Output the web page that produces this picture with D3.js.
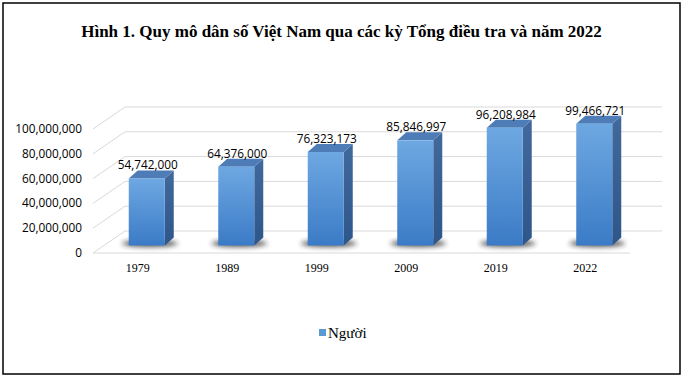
<!DOCTYPE html>
<html>
<head>
<meta charset="utf-8">
<script src="https://cdn.jsdelivr.net/npm/d3@7"></script>
<style>
  body { margin: 0; background: #fff; }
  svg { display: block; }
</style>
</head>
<body>
<div id="chart"></div>
<script>
// Chart data
const years = ['1979', '1989', '1999', '2009', '2019', '2022'];
const population = [54742000, 64376000, 76323173, 85846997, 96208984, 99466721];
const tickValues = [0, 20000000, 40000000, 60000000, 80000000, 100000000];
const seriesName = 'Người';
const title = 'Hình 1. Quy mô dân số Việt Nam qua các kỳ Tổng điều tra và năm 2022';

const width = 683;
const height = 379;

// 3D plot geometry
const floorLeft = 93, floorRight = 630;
const depthX = 32, depthY = -22;       // wall depth offset
const barDX = 9, barDY = -8;           // bar depth offset
const barWidth = 36;

const svg = d3.select('#chart')
  .append('svg')
  .attr('width', width)
  .attr('height', height);

const defs = svg.append('defs');

const frontGrad = defs.append('linearGradient')
  .attr('id', 'frontGrad')
  .attr('x1', 0).attr('y1', 0).attr('x2', 0).attr('y2', 1);
frontGrad.append('stop').attr('offset', '0%').attr('stop-color', '#6ea8e2');
frontGrad.append('stop').attr('offset', '100%').attr('stop-color', '#3b7bc6');

const sideGrad = defs.append('linearGradient')
  .attr('id', 'sideGrad')
  .attr('x1', 0).attr('y1', 0).attr('x2', 0).attr('y2', 1);
sideGrad.append('stop').attr('offset', '0%').attr('stop-color', '#42699c');
sideGrad.append('stop').attr('offset', '100%').attr('stop-color', '#2d568a');

defs.append('filter')
  .attr('id', 'blur')
  .attr('x', '-50%').attr('y', '-200%')
  .attr('width', '200%').attr('height', '500%')
  .append('feGaussianBlur')
  .attr('stdDeviation', 2.5);

// Outer border
svg.append('rect')
  .attr('x', 3).attr('y', 3)
  .attr('width', 677).attr('height', 371)
  .attr('fill', '#fff')
  .attr('stroke', '#000')
  .attr('stroke-width', 1.5);

// Title
svg.append('text')
  .attr('x', 341.5)
  .attr('y', 37)
  .attr('text-anchor', 'middle')
  .attr('font-family', '"Liberation Serif", "Times New Roman", serif')
  .attr('font-weight', 'bold')
  .attr('font-size', '17px')
  .attr('fill', '#000')
  .text(title);

// Scales
const x = d3.scaleBand()
  .domain(years)
  .range([floorLeft, floorRight])
  .padding(0);

// value axis on the front plane
const yFront = d3.scaleLinear()
  .domain([0, 100000000])
  .range([253, 129]);

// value scale at bar depth
const yBar = d3.scaleLinear()
  .domain([0, 100000000])
  .range([245.5, 123]);

const fmt = d3.format(',');

// Gridlines: back wall and left side wall
const grid = svg.append('g');
grid.selectAll('line.back')
  .data(tickValues)
  .join('line')
  .attr('class', 'back')
  .attr('x1', floorLeft + depthX)
  .attr('x2', floorRight + depthX)
  .attr('y1', d => yFront(d) + depthY)
  .attr('y2', d => yFront(d) + depthY)
  .attr('stroke', '#d9d9d9')
  .attr('stroke-width', 1);

grid.selectAll('line.side')
  .data(tickValues)
  .join('line')
  .attr('class', 'side')
  .attr('x1', floorLeft)
  .attr('x2', floorLeft + depthX)
  .attr('y1', d => yFront(d))
  .attr('y2', d => yFront(d) + depthY)
  .attr('stroke', '#d9d9d9')
  .attr('stroke-width', 1);

// floor front edge
grid.append('line')
  .attr('x1', floorLeft)
  .attr('x2', floorRight)
  .attr('y1', yFront(0))
  .attr('y2', yFront(0))
  .attr('stroke', '#d9d9d9')
  .attr('stroke-width', 1);

// Y axis labels
svg.append('g')
  .selectAll('text')
  .data(tickValues)
  .join('text')
  .attr('x', 82)
  .attr('y', d => yFront(d) + 4)
  .attr('text-anchor', 'end')
  .attr('font-family', '"Open Sans", sans-serif')
  .attr('font-size', '11.8px')
  .attr('fill', '#000')
  .text(d => fmt(d));

// X axis labels
svg.append('g')
  .selectAll('text')
  .data(years)
  .join('text')
  .attr('x', d => x(d) + x.bandwidth() / 2)
  .attr('y', 272)
  .attr('text-anchor', 'middle')
  .attr('font-family', '"Liberation Serif", "Times New Roman", serif')
  .attr('font-size', '12px')
  .attr('fill', '#000')
  .text(d => d);

const barX = d => x(d) + x.bandwidth() / 2 + 9 - barWidth / 2;

// Shadows
svg.append('g')
  .selectAll('ellipse')
  .data(years)
  .join('ellipse')
  .attr('cx', d => barX(d) + barWidth / 2 + 3)
  .attr('cy', yBar(0) - 2)
  .attr('rx', 28)
  .attr('ry', 3.5)
  .attr('fill', '#222')
  .attr('opacity', 0.75)
  .attr('filter', 'url(#blur)');

// Bars
const bars = svg.append('g')
  .selectAll('g')
  .data(years.map((y, i) => ({ year: y, value: population[i] })))
  .join('g');

// side face
bars.append('path')
  .attr('d', d => {
    const x1 = barX(d.year) + barWidth;
    const yt = yBar(d.value), yb = yBar(0);
    return `M${x1},${yt}L${x1 + barDX},${yt + barDY}L${x1 + barDX},${yb + barDY}L${x1},${yb}Z`;
  })
  .attr('fill', 'url(#sideGrad)');

// top face
bars.append('path')
  .attr('d', d => {
    const x0 = barX(d.year), x1 = x0 + barWidth;
    const yt = yBar(d.value);
    return `M${x0},${yt}L${x0 + barDX},${yt + barDY}L${x1 + barDX},${yt + barDY}L${x1},${yt}Z`;
  })
  .attr('fill', '#4d7cb6');

// front face
bars.append('rect')
  .attr('x', d => barX(d.year))
  .attr('y', d => yBar(d.value))
  .attr('width', barWidth)
  .attr('height', d => yBar(0) - yBar(d.value))
  .attr('fill', 'url(#frontGrad)');

// Value labels
bars.append('text')
  .attr('x', d => barX(d.year) + barWidth / 2 + 1)
  .attr('y', d => yBar(d.value) - 9)
  .attr('text-anchor', 'middle')
  .attr('font-family', '"Open Sans", sans-serif')
  .attr('font-size', '11.8px')
  .attr('fill', '#000')
  .text(d => fmt(d.value));

// Legend
const legend = svg.append('g');
legend.append('rect')
  .attr('x', 319).attr('y', 329)
  .attr('width', 7).attr('height', 7)
  .attr('fill', '#5b9bd5');
legend.append('text')
  .attr('x', 328)
  .attr('y', 338)
  .attr('font-family', '"Liberation Serif", "Times New Roman", serif')
  .attr('font-size', '15px')
  .attr('fill', '#000')
  .text(seriesName);
</script>
</body>
</html>
